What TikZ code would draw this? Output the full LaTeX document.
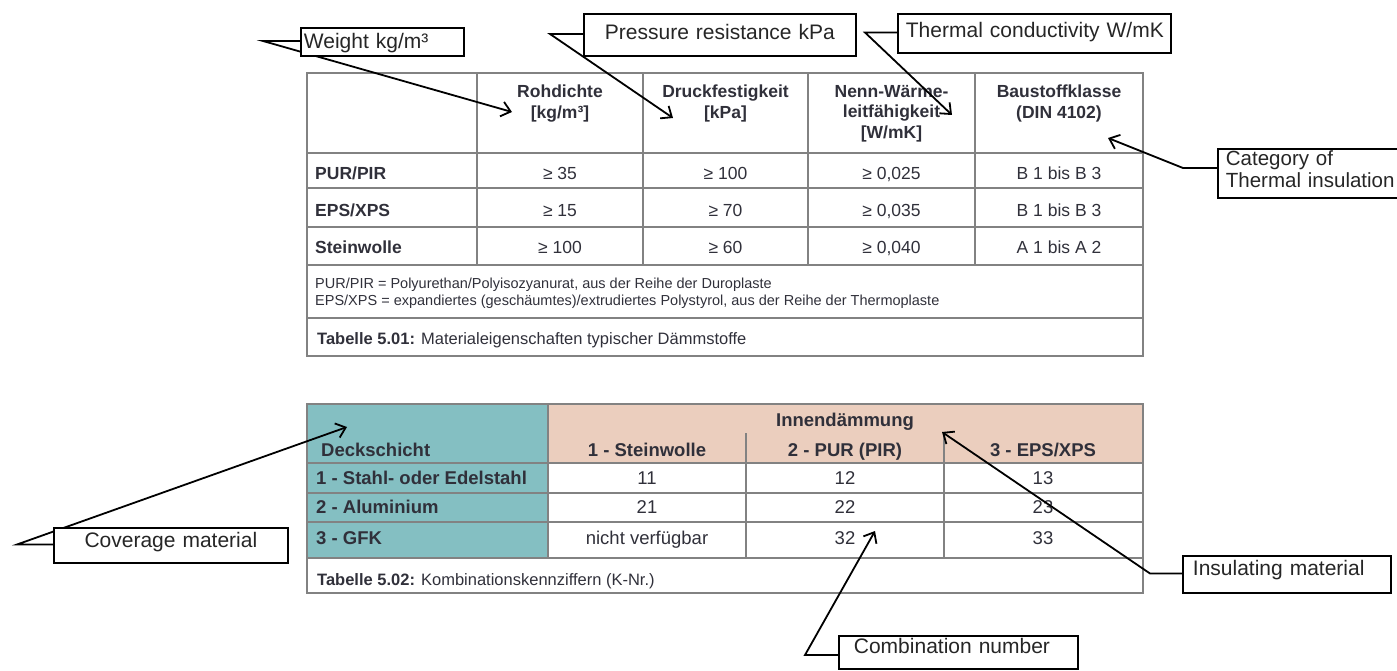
\documentclass[tikz,border=0pt]{standalone}
\usepackage{fontspec}
\setmainfont{Liberation Sans}
\usetikzlibrary{arrows.meta}
\pgfdeclarelayer{front}
\pgfsetlayers{main,front}

\definecolor{tealfill}{RGB}{132,191,194}
\definecolor{peachfill}{RGB}{235,206,190}
\definecolor{rulegray}{RGB}{130,130,130}
\definecolor{ink}{RGB}{48,48,58}

\begin{document}
\begin{tikzpicture}[x=1pt, y=-1pt,
    callout/.style={draw, line width=1.8pt, fill=white, inner ysep=0pt, anchor=north west,
      font=\fontsize{21}{22}\selectfont, text=black!85},
    leader/.style={line width=1.8pt, -{Straight Barb[length=9pt, width=15pt]}},
    tablerule/.style={draw=rulegray, line width=1.3pt},
    head/.style={font=\bfseries\fontsize{17.5}{20.5}\selectfont, text=ink, align=center, anchor=north, inner sep=0pt},
    val/.style={font=\fontsize{17.5}{20}\selectfont, text=ink, anchor=base, inner sep=0pt},
    rowname/.style={val, font=\bfseries\fontsize{17.5}{20}\selectfont, anchor=base west},
    note/.style={font=\fontsize{14.5}{17}\selectfont, text=ink, anchor=base west, inner sep=0pt},
    capt/.style={font=\fontsize{16.5}{19}\selectfont, text=ink, anchor=base west, inner sep=0pt},
    bval/.style={font=\fontsize{18.5}{21}\selectfont, text=ink, anchor=base, inner sep=0pt},
    bhead/.style={bval, font=\bfseries\fontsize{18.5}{21}\selectfont},
    bname/.style={bhead, anchor=base west}]
\useasboundingbox (0,0) rectangle (1397,671);

% Tabelle 5.01
\draw[tablerule] (307,73) rectangle (1143,356);
\foreach \y in {153,188,227,265,318}
  \draw[tablerule] (307,\y) -- (1143,\y);
\foreach \x in {477,643,808,975}
  \draw[tablerule] (\x,73) -- (\x,265);

\node[head] (H1) at (560,85) {Rohdichte\\{[}kg/m³]};
\node[head] (H2) at (725.5,85) {Druckfestigkeit\\{[}kPa]};
\node[head] (H3) at (891.5,85) {Nenn-Wärme-\\leitfähigkeit\\{[}W/mK]};
\node[head] (H4) at (1059,85) {Baustoffklasse\\(DIN 4102)};

\node[rowname] (R1) at (315,180) {PUR/PIR};
\node[rowname] (R2) at (315,217) {EPS/XPS};
\node[rowname] (R3) at (315,253.5) {Steinwolle};

\node[val] at (560,180) {≥ 35};
\node[val] at (725.5,180) {≥ 100};
\node[val] at (891.5,180) {≥ 0,025};
\node[val] at (1059,180) {B 1 bis B 3};
\node[val] at (560,217) {≥ 15};
\node[val] at (725.5,217) {≥ 70};
\node[val] at (891.5,217) {≥ 0,035};
\node[val] at (1059,217) {B 1 bis B 3};
\node[val] at (560,253.5) {≥ 100};
\node[val] at (725.5,253.5) {≥ 60};
\node[val] at (891.5,253.5) {≥ 0,040};
\node[val] at (1059,253.5) {A 1 bis A 2};

\node[note] (N1) at (315,288) {PUR/PIR = Polyurethan/Polyisozyanurat, aus der Reihe der Duroplaste};
\node[note] (N2) at (315,305) {EPS/XPS = expandiertes (geschäumtes)/extrudiertes Polystyrol, aus der Reihe der Thermoplaste};
\node[capt] (T1) at (317,344) {\textbf{Tabelle 5.01:} Materialeigenschaften typischer Dämmstoffe};

% Tabelle 5.02
\fill[tealfill] (307,404) rectangle (548,558);
\fill[peachfill] (548,404) rectangle (1143,463);
\draw[tablerule] (307,404) rectangle (1143,593);
\foreach \y in {463,493,522,558}
  \draw[tablerule] (307,\y) -- (1143,\y);
\draw[tablerule] (548,404) -- (548,558);
\foreach \x in {746,944}
  \draw[tablerule] (\x,433) -- (\x,558);

\node[bhead] (I0) at (845,426) {Innendämmung};
\node[bname] (D0) at (321,456) {Deckschicht};
\node[bhead] (I1) at (647,456) {1 - Steinwolle};
\node[bhead] (I2) at (845,456) {2 - PUR (PIR)};
\node[bhead] (I3) at (1043,456) {3 - EPS/XPS};

\node[bname] (D1) at (316,484) {1 - Stahl- oder Edelstahl};
\node[bname] (D2) at (316,513) {2 - Aluminium};
\node[bname] (D3) at (316,544) {3 - GFK};

\node[bval] at (647,484) {11};
\node[bval] at (845,484) {12};
\node[bval] at (1043,484) {13};
\node[bval] at (647,513) {21};
\node[bval] at (845,513) {22};
\node[bval] at (1043,513) {23};
\node[bval] at (647,544) {nicht verfügbar};
\node[bval] at (845,544) {32};
\node[bval] at (1043,544) {33};

\node[capt] (T2) at (317,585) {\textbf{Tabelle 5.02:} Kombinationskennziffern (K-Nr.)};

% callouts
\begin{pgfonlayer}{front}
\clip (0,0) rectangle (1397,671);
\node[callout, text width=157pt, inner xsep=3pt, align=left, text height=21pt, text depth=7pt] (L1) at (300,27) {Weight kg/m³};
\node[callout, text width=272pt, inner xsep=0pt, align=center, text height=26pt, text depth=16pt] (L2) at (583,13) {Pressure resistance kPa};
\node[callout, text width=257pt, inner xsep=8pt, align=left, text height=24pt, text depth=15pt] (L3) at (897,13) {\mbox{Thermal conductivity W/mK}};
\node[callout, text width=220pt, inner xsep=8pt, inner ysep=1pt, align=left, font=\fontsize{20.5}{22}\selectfont] (L4) at (1217,148)
  {\rule{0pt}{16pt}Category of\\Thermal insulation\rule[-9pt]{0pt}{9pt}};
\node[callout, text width=234pt, inner xsep=0pt, align=center, text height=20pt, text depth=15pt] (L5) at (53,527) {Coverage material};
\node[callout, text width=188pt, inner xsep=10pt, align=left, text height=20pt, text depth=17pt] (L6) at (1182,555) {Insulating material};
\node[callout, text width=209pt, inner xsep=15pt, align=left, text height=18pt, text depth=15pt] (L7) at (838,635) {Combination number};
\end{pgfonlayer}

\coordinate (K1) at (263,41);
\coordinate (K2) at (550,34);
\coordinate (K3) at (865,32.5);
\coordinate (K4) at (1183,168);
\coordinate (K5) at (17,544.5);
\coordinate (K6) at (1150,573.5);
\coordinate (K7) at (805,655);

\coordinate (A1) at (512,112);
\coordinate (A2) at (673,118);
\coordinate (A3) at (952,115);
\coordinate (A4) at (1108,138);
\coordinate (A5) at (347,427);
\coordinate (A6) at (942,432);
\coordinate (A7) at (875,531);

\foreach \i in {1,...,7}
  \draw[leader] (L\i.west |- K\i) -- (K\i) -- (A\i);
\end{tikzpicture}
\end{document}
